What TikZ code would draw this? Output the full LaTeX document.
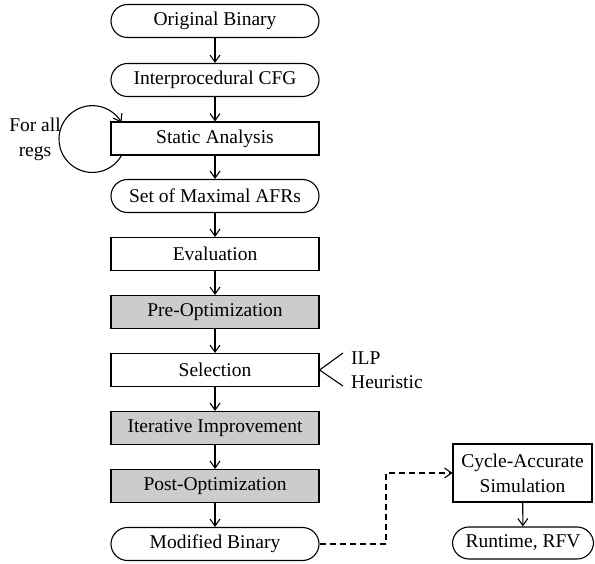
\documentclass[tikz,border=0pt]{standalone}
\usepackage{fontspec}
\setmainfont{Liberation Serif}
\usetikzlibrary{arrows.meta}
\begin{document}
\begin{tikzpicture}[x=1pt,y=-1pt,
  every node/.style={font=\fontsize{19.5}{25}\selectfont, text=black},
  box/.style={draw, line width=1.1pt, minimum width=208pt, minimum height=33pt, inner sep=0pt},
  term/.style={box, rounded corners=16.5pt},
  grey/.style={box, fill=black!20},
  conn/.style={line width=1.1pt, -{Straight Barb[length=7pt,width=10pt]}},
  plain/.style={line width=1.1pt}]
\useasboundingbox (0,0) rectangle (595,564);
\node[term] (ob) at (215,21) {Original Binary};
\node[term] (cfg) at (215,80) {Interprocedural CFG};
\node[box] (sa) at (215,138.5) {Static Analysis};
\node[term] (afr) at (215,196) {Set of Maximal AFRs};
\node[box] (ev) at (215,254) {Evaluation};
\node[grey] (pre) at (215,312) {Pre-Optimization};
\node[box] (sel) at (215,370) {Selection};
\node[grey] (it) at (215,428) {Iterative Improvement};
\node[grey] (post) at (215,486) {Post-Optimization};
\node[term] (mb) at (215,544) {Modified Binary};
\node[box, minimum width=139pt, minimum height=58pt, align=center] (cas) at (522.5,473) {Cycle-Accurate\\Simulation};
\node[term, minimum width=141pt, minimum height=32pt] (rt) at (523,543) {Runtime, RFV};
\node[align=center, inner sep=0pt] (far) at (35,139) {For all\\regs};
\node[anchor=west, inner sep=0pt] (ilp) at (351,358) {ILP};
\node[anchor=west, inner sep=0pt] (heu) at (351,382) {Heuristic};
\draw[conn] (ob) -- (cfg);
\draw[conn] (cfg) -- (sa);
\draw[conn] (sa) -- (afr);
\draw[conn] (afr) -- (ev);
\draw[conn] (ev) -- (pre);
\draw[conn] (pre) -- (sel);
\draw[conn] (sel) -- (it);
\draw[conn] (it) -- (post);
\draw[conn] (post) -- (mb);
\draw[conn] (cas) -- (rt);
\draw[conn] ([xshift=11pt]sa.south west) arc[start angle=29.6, end angle=330.4, radius=33.4];
\coordinate (f1) at (343,353);
\coordinate (f2) at (343,386);
\draw[plain] (f1) -- (sel.east) -- (f2);
\coordinate (bend) at (386,544);
\draw[conn, dash pattern=on 6pt off 4pt] (mb.east) -- (bend) |- (cas.west);
\end{tikzpicture}
\end{document}
